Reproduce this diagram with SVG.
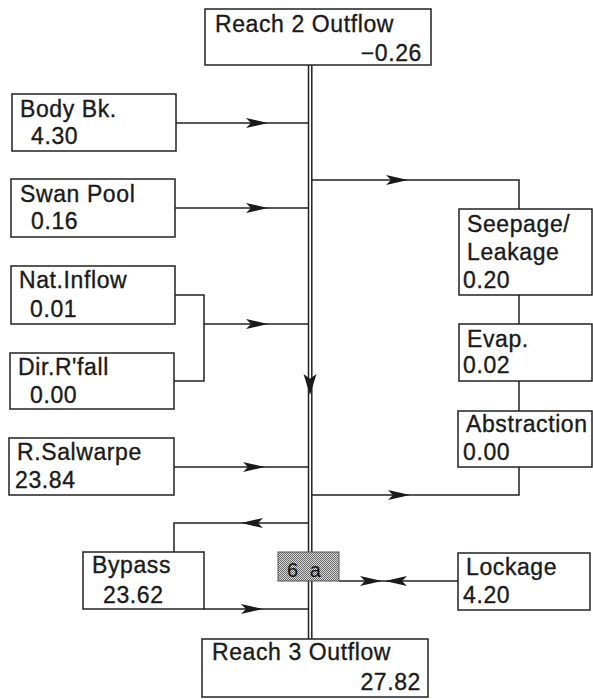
<svg xmlns="http://www.w3.org/2000/svg" xmlns:xlink="http://www.w3.org/1999/xlink" width="593" height="699" viewBox="0 0 593 699">
<style>
.box{fill:#fff;stroke:#222;stroke-width:1.5}
.t{font-family:"Liberation Sans",Arial,sans-serif;font-size:23px;letter-spacing:0.6px;fill:#1a1a1a;stroke:#1a1a1a;stroke-width:0.35}
.e{text-anchor:end}
.ln{fill:none;stroke:#222;stroke-width:1.5}
.ah{fill:#1a1a1a}
</style>
<defs>
<path id="ah" d="M-22,-5 L0,0 L-22,5 L-17,0 Z"/>
<pattern id="stip" width="2" height="2" patternUnits="userSpaceOnUse">
<rect width="2" height="2" fill="#d8d8d8"/>
<rect width="1" height="1" fill="#6a6a6a"/>
<rect x="1" y="1" width="1" height="1" fill="#6a6a6a"/>
</pattern>
</defs>
<rect width="593" height="699" fill="#fff"/>
<g id="connectors">
<line class="ln" x1="308.5" y1="65" x2="308.5" y2="552"/>
<line class="ln" x1="311.8" y1="65" x2="311.8" y2="552"/>
<line class="ln" x1="308.5" y1="581" x2="308.5" y2="639"/>
<line class="ln" x1="311.8" y1="581" x2="311.8" y2="639"/>
<polyline class="ln" points="176,123 308,123"/>
<polyline class="ln" points="175,208 308,208"/>
<polyline class="ln" points="175,295 204,295 204,381 174,381"/>
<polyline class="ln" points="204,324 308,324"/>
<polyline class="ln" points="174,467 308,467"/>
<polyline class="ln" points="308,523 174,523 174,552"/>
<polyline class="ln" points="204,609 308,609"/>
<polyline class="ln" points="312,180 519,180 519,209"/>
<polyline class="ln" points="519,295 519,324"/>
<polyline class="ln" points="519,381 519,411"/>
<polyline class="ln" points="519,467 519,495 312,495"/>
<polyline class="ln" points="339,581 458,581"/>
<g class="ah">
<use xlink:href="#ah" transform="translate(268,123)"/>
<use xlink:href="#ah" transform="translate(268,208)"/>
<use xlink:href="#ah" transform="translate(268,324)"/>
<use xlink:href="#ah" transform="translate(265,467)"/>
<use xlink:href="#ah" transform="translate(241,523) rotate(180)"/>
<use xlink:href="#ah" transform="translate(263,609)"/>
<use xlink:href="#ah" transform="translate(408,180)"/>
<use xlink:href="#ah" transform="translate(410,495)"/>
<use xlink:href="#ah" transform="translate(382,581)"/>
<use xlink:href="#ah" transform="translate(385,581) rotate(180)"/>
<use xlink:href="#ah" transform="translate(310,395) rotate(90) scale(0.95,1.3)"/>
</g>
</g>
<g id="reach2"><rect class="box" x="205" y="9" width="226" height="56"/><text class="t" x="215" y="32">Reach 2 Outflow</text><text class="t e" x="422" y="61">−0.26</text></g>
<g id="bodybk"><rect class="box" x="12" y="94" width="164" height="57"/><text class="t" x="20" y="117">Body Bk.</text><text class="t" x="31" y="144">4.30</text></g>
<g id="swanpool"><rect class="box" x="11" y="179" width="164" height="58"/><text class="t" x="20" y="202">Swan Pool</text><text class="t" x="31" y="229">0.16</text></g>
<g id="natinflow"><rect class="box" x="11" y="266" width="164" height="58"/><text class="t" x="19" y="288">Nat.Inflow</text><text class="t" x="30" y="317">0.01</text></g>
<g id="dirrfall"><rect class="box" x="10" y="353" width="164" height="56"/><text class="t" x="18" y="375">Dir.R'fall</text><text class="t" x="30" y="403">0.00</text></g>
<g id="rsalwarpe"><rect class="box" x="9" y="438" width="165" height="57"/><text class="t" x="17" y="460">R.Salwarpe</text><text class="t" x="15" y="488">23.84</text></g>
<g id="bypass"><rect class="box" x="83" y="552" width="121" height="57"/><text class="t" x="92" y="573">Bypass</text><text class="t" x="103" y="603">23.62</text></g>
<g id="reach3"><rect class="box" x="202" y="639" width="226" height="58"/><text class="t" x="212" y="660">Reach 3 Outflow</text><text class="t e" x="421" y="690">27.82</text></g>
<g id="seepage"><rect class="box" x="459" y="209" width="133" height="86"/><text class="t" x="467" y="232">Seepage/</text><text class="t" x="467" y="260">Leakage</text><text class="t" x="463" y="288">0.20</text></g>
<g id="evap"><rect class="box" x="459" y="324" width="133" height="57"/><text class="t" x="467" y="347">Evap.</text><text class="t" x="463" y="373">0.02</text></g>
<g id="abstraction"><rect class="box" x="458" y="411" width="134" height="56"/><text class="t" x="466" y="432">Abstraction</text><text class="t" x="463" y="460">0.00</text></g>
<g id="lockage"><rect class="box" x="458" y="553" width="132" height="57"/><text class="t" x="466" y="575">Lockage</text><text class="t" x="463" y="603">4.20</text></g>
<g id="node6a"><rect x="278" y="552" width="61" height="29" fill="url(#stip)" stroke="#555" stroke-width="1"/><text x="287" y="577" style="font-family:'Liberation Sans',Arial,sans-serif;font-size:20px;word-spacing:6px;fill:#111">6 a</text></g>
</svg>
